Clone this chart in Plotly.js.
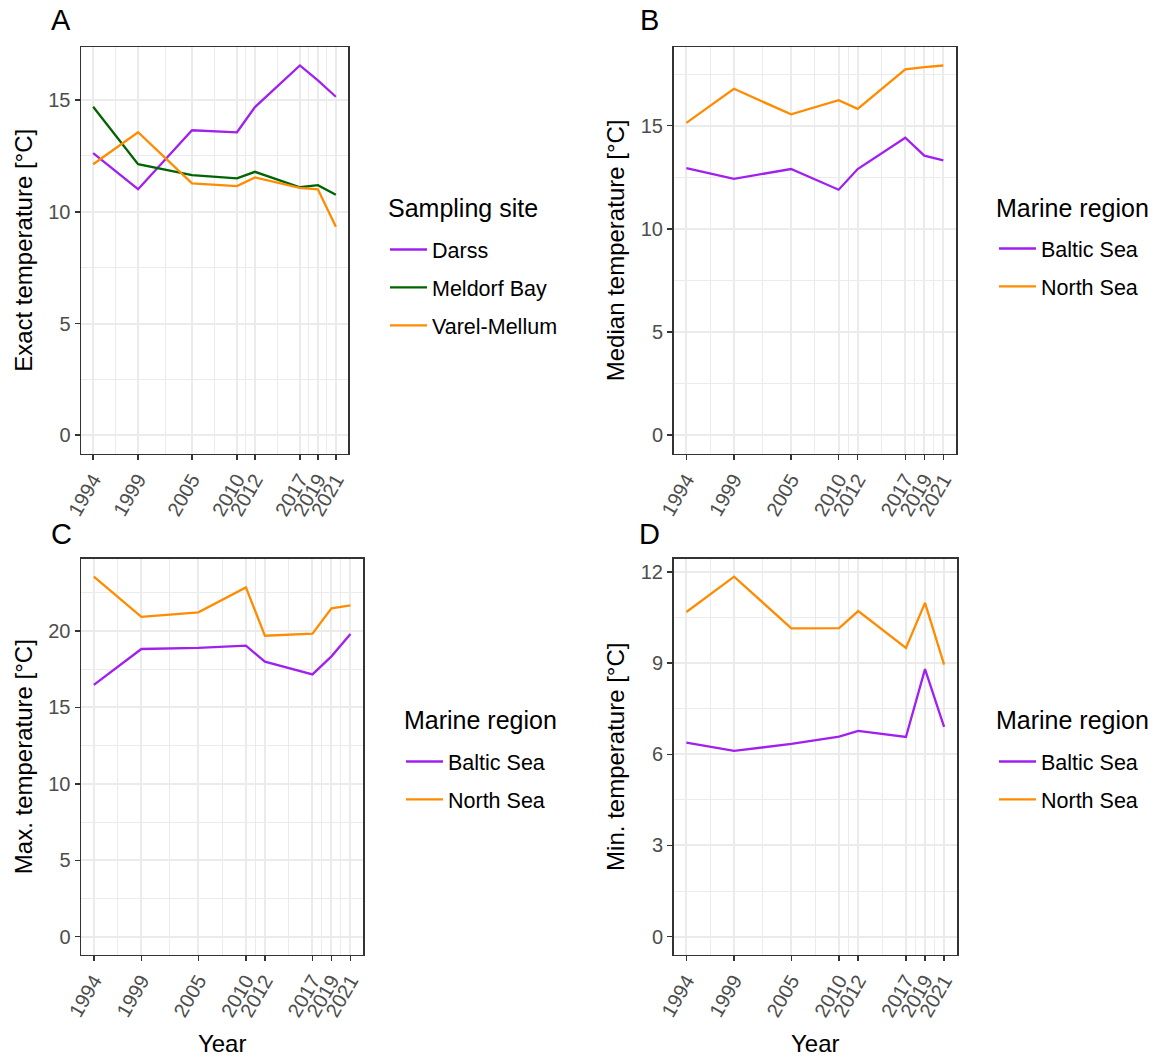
<!DOCTYPE html>
<html>
<head>
<meta charset="utf-8">
<script src="https://cdn.plot.ly/plotly-3.0.1.min.js"></script>
<style>
  html, body { margin: 0; padding: 0; background: #ffffff; }
  #chart { width: 1157px; height: 1057px; }
</style>
</head>
<body>
<div id="chart"></div>
<script>
// ---- Data ----
const years = [1994, 1999, 2005, 2010, 2012, 2017, 2019, 2021];
const yearLabels = ["1994", "1999", "2005", "2010", "2012", "2017", "2019", "2021"];

// Panel A: exact temperature by sampling site
const siteNames = ["Darss", "Meldorf Bay", "Varel-Mellum"];
const exactDarss   = [12.63, 11.01, 13.65, 13.56, 14.69, 16.55, 15.88, 15.15];
const exactMeldorf = [14.70, 12.13, 11.64, 11.50, 11.79, 11.10, 11.19, 10.76];
const exactVarel   = [12.13, 13.56, 11.27, 11.15, 11.54, 11.07, 11.01, 9.33];

// Panels B-D: by marine region
const regionNames = ["Baltic Sea", "North Sea"];
const medianBaltic = [12.94, 12.43, 12.90, 11.90, 12.90, 14.42, 13.55, 13.32];
const medianNorth  = [15.14, 16.79, 15.55, 16.24, 15.82, 17.73, 17.84, 17.92];
const maxBaltic    = [16.47, 18.82, 18.89, 19.04, 17.99, 17.16, 18.34, 19.80];
const maxNorth     = [23.55, 20.92, 21.22, 22.85, 19.69, 19.82, 21.48, 21.67];
const minBaltic    = [6.38, 6.11, 6.34, 6.58, 6.77, 6.57, 8.80, 6.90];
const minNorth     = [10.68, 11.84, 10.14, 10.15, 10.71, 9.50, 10.98, 8.95];

// ---- Styling ----
const PURPLE = "#A020F0", GREEN = "#006400", ORANGE = "#FF8C00";
const FONT = "Liberation Sans, Arial, sans-serif";
const W = 1157, H = 1057;
const px = v => v / W;
const py = v => 1 - v / H;

function line(xa, ya, y, name, color, legend) {
  return {
    type: "scatter", mode: "lines", x: years, y: y, name: name,
    xaxis: xa, yaxis: ya, legend: legend, legendgroup: legend + name,
    line: { color: color, width: 2.3 }, hoverinfo: "x+y+name"
  };
}

const data = [
  line("x", "y", exactDarss, siteNames[0], PURPLE, "legend"),
  line("x", "y", exactMeldorf, siteNames[1], GREEN, "legend"),
  line("x", "y", exactVarel, siteNames[2], ORANGE, "legend"),
  line("x2", "y2", medianBaltic, regionNames[0], PURPLE, "legend2"),
  line("x2", "y2", medianNorth, regionNames[1], ORANGE, "legend2"),
  line("x3", "y3", maxBaltic, regionNames[0], PURPLE, "legend3"),
  line("x3", "y3", maxNorth, regionNames[1], ORANGE, "legend3"),
  line("x4", "y4", minBaltic, regionNames[0], PURPLE, "legend4"),
  line("x4", "y4", minNorth, regionNames[1], ORANGE, "legend4")
];

// expanded ranges like ggplot (5%)
function yRange(arrs) {
  const mx = Math.max(...arrs.flat());
  const mn = Math.min(0, ...arrs.flat());
  const s = mx - mn;
  return [mn - 0.05 * s, mx + 0.05 * s];
}
const xSpan = years[years.length - 1] - years[0];
const xRange = [years[0] - 0.05 * xSpan, years[years.length - 1] + 0.05 * xSpan];
const xMinor = years.slice(1).map((v, i) => (v + years[i]) / 2);

function xAxis(domain, anchor, showTitle) {
  return {
    domain: domain, anchor: anchor, range: xRange,
    tickmode: "array", tickvals: years, ticktext: yearLabels,
    tickangle: -60, ticks: "outside", ticklen: 5, tickwidth: 1.5, tickcolor: "#333333",
    tickfont: { family: FONT, size: 20, color: "#4D4D4D" },
    showgrid: true, gridcolor: "#EBEBEB", gridwidth: 2,
    minor: { tickmode: "array", tickvals: xMinor, showgrid: true, gridcolor: "#EBEBEB", gridwidth: 1, ticks: "" },
    zeroline: false, showline: true, mirror: true, linecolor: "#333333", linewidth: 1.5,
    automargin: false,
    title: showTitle ? { text: "Year", font: { family: FONT, size: 24, color: "#000000" }, standoff: 15 } : { text: "" }
  };
}
function yAxis(domain, anchor, range, dtick, title) {
  return {
    domain: domain, anchor: anchor, range: range,
    tickmode: "linear", tick0: 0, dtick: dtick,
    ticks: "outside", ticklen: 5, tickwidth: 1.5, tickcolor: "#333333",
    tickfont: { family: FONT, size: 20, color: "#4D4D4D" },
    showgrid: true, gridcolor: "#EBEBEB", gridwidth: 2,
    minor: { tick0: 0, dtick: dtick / 2, showgrid: true, gridcolor: "#EBEBEB", gridwidth: 1, ticks: "" },
    zeroline: false, showline: true, mirror: true, linecolor: "#333333", linewidth: 1.5,
    automargin: false,
    title: { text: title, font: { family: FONT, size: 24, color: "#000000" }, standoff: 9 }
  };
}

const topDom = [py(453.7), py(47)];
const botDom = [py(954.7), py(558.7)];

function legendCfg(x, y) {
  return {
    x: x, y: y, xanchor: "left", yanchor: "top",
    font: { family: FONT, size: 21.5, color: "#000000" },
    traceorder: "grouped", tracegroupgap: 7, itemwidth: 37,
    bgcolor: "rgba(0,0,0,0)", borderwidth: 0
  };
}

const tagFont = { family: FONT, size: 29, color: "#000000" };
const legTitleFont = { family: FONT, size: 25, color: "#000000" };
function ann(text, x, y, font) {
  return { text: text, x: px(x), y: py(y), xref: "paper", yref: "paper",
           xanchor: "left", yanchor: "middle", showarrow: false, font: font };
}

const layout = {
  width: W, height: H,
  margin: { l: 0, r: 0, t: 0, b: 0 },
  paper_bgcolor: "#ffffff", plot_bgcolor: "#ffffff",
  font: { family: FONT },
  showlegend: true,
  xaxis:  xAxis([px(81), px(348)], "y", false),
  yaxis:  yAxis(topDom, "x", yRange([exactDarss, exactMeldorf, exactVarel]), 5, "Exact temperature [°C]"),
  xaxis2: xAxis([px(673.5), px(956.2)], "y2", false),
  yaxis2: yAxis(topDom, "x2", yRange([medianBaltic, medianNorth]), 5, "Median temperature [°C]"),
  xaxis3: xAxis([px(81), px(363.3)], "y3", true),
  yaxis3: yAxis(botDom, "x3", yRange([maxBaltic, maxNorth]), 5, "Max. temperature [°C]"),
  xaxis4: xAxis([px(673.5), px(957)], "y4", true),
  yaxis4: yAxis(botDom, "x4", yRange([minBaltic, minNorth]), 3, "Min. temperature [°C]"),
  legend:  legendCfg(px(385), py(229)),
  legend2: legendCfg(px(994), py(228)),
  legend3: legendCfg(px(401), py(741)),
  legend4: legendCfg(px(994), py(741)),
  annotations: [
    ann("A", 49, 20, tagFont),
    ann("B", 638, 20, tagFont),
    ann("C", 49, 534, tagFont),
    ann("D", 637, 534, tagFont),
    ann("Sampling site", 386, 208, legTitleFont),
    ann("Marine region", 994, 208, legTitleFont),
    ann("Marine region", 402, 720, legTitleFont),
    ann("Marine region", 994, 720, legTitleFont)
  ]
};

Plotly.newPlot("chart", data, layout, { displayModeBar: false, staticPlot: true });
</script>
</body>
</html>
